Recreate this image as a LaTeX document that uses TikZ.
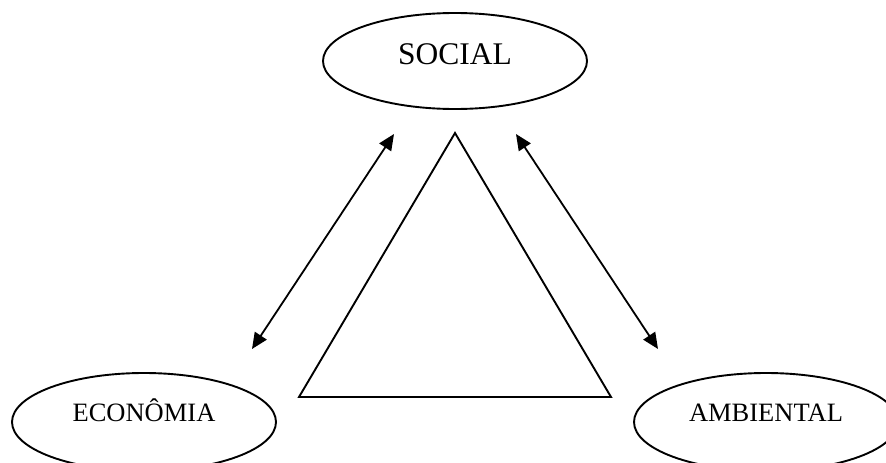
\documentclass[tikz,border=0pt]{standalone}
\usepackage{fontspec}
\setmainfont{Liberation Serif}
\usetikzlibrary{shapes.geometric,arrows.meta}
\begin{document}
\begin{tikzpicture}[x=1pt,y=-1pt,
  oval/.style={ellipse,draw,line width=1.9pt,inner sep=0pt,minimum width=264pt},
  smalltext/.style={font=\fontsize{26.5}{30}\selectfont,text height=17.5pt,text depth=18pt,minimum height=98pt},
  bigtext/.style={font=\fontsize{31.5}{36}\selectfont,text height=20.9pt,text depth=14pt,minimum height=96pt},
  link/.style={line width=1.8pt,{Triangle[length=16pt,width=14pt]}-{Triangle[length=16pt,width=14pt]}},
  tri/.style={line width=1.9pt,line join=miter}]
\useasboundingbox (0,0) rectangle (886,463);
\clip (0,0) rectangle (886,463);
\fill[white] (0,0) rectangle (886,463);
\node[oval,bigtext] (social) at (455,61) {SOCIAL};
\node[oval,smalltext] (eco) at (144,422) {ECONÔMIA};
\node[oval,smalltext] (amb) at (766,422) {AMBIENTAL};
\coordinate (apex) at (455,133);
\coordinate (bl) at (299,397);
\coordinate (br) at (611,397);
\draw[tri] (apex) -- (bl) -- (br) -- cycle;
\coordinate (lt) at (394,134);
\coordinate (lb) at (252,349);
\coordinate (rt) at (516,134);
\coordinate (rb) at (658,349);
\draw[link] (lt) -- (lb);
\draw[link] (rt) -- (rb);
\end{tikzpicture}
\end{document}
